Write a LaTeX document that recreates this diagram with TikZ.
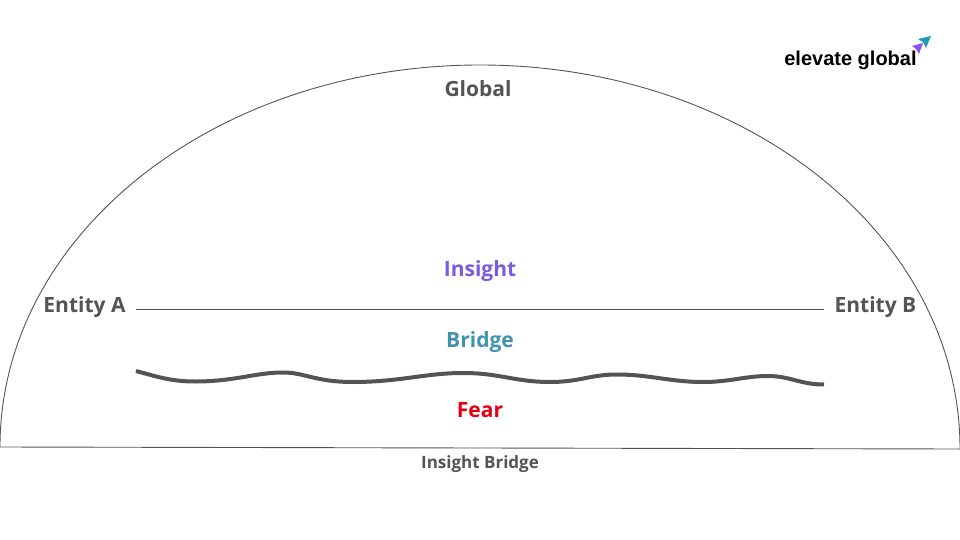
\documentclass[tikz,border=0pt]{standalone}
\usepackage{fontspec}
\setmainfont{Open Sans}
\newfontfamily\logofont{Liberation Sans}
\usepackage{xcolor}
\definecolor{label-grey}{HTML}{545454}
\definecolor{insight-purple}{HTML}{7B5CE0}
\definecolor{bridge-teal}{HTML}{3F93AE}
\definecolor{fear-red}{HTML}{E60012}
\definecolor{logo-teal}{HTML}{1C9CB0}
\definecolor{logo-purple}{HTML}{8A55E6}
\newcommand{\pxfont}[1]{\fontsize{#1}{#1}\selectfont\bfseries}

\begin{document}
\begin{tikzpicture}[x=1pt, y=-1pt,
    every node/.style={inner sep=0pt, anchor=center},
    tag/.style={text=label-grey, font=\pxfont{21}},
    thinline/.style={draw=label-grey, line width=0.9pt},
    wave/.style={draw=label-grey, line width=4pt}]
    \useasboundingbox (0, 0) rectangle (960, 540);
    % dome and ground line
    \coordinate (domeA) at (0, 447);
    \coordinate (domeB) at (960, 449);
    \draw[thinline] (domeA) .. controls (0, 235) and (215, 65) .. (480, 65)
      .. controls (745, 65) and (960, 235) .. (domeB);
    \draw[thinline] (domeA) -- (domeB);
    % labels
    \node[tag] (global) at (478, 89) {Global};
    \node[tag] (entA) at (84.5, 307) {Entity A};
    \node[tag] (entB) at (875.5, 307) {Entity B};
    \node[tag, text=insight-purple] (insight) at (480, 271) {Insight};
    \node[tag, text=bridge-teal] (bridge) at (480, 342) {Bridge};
    \node[tag, text=fear-red] (fear) at (480, 410) {Fear};
    \node[tag, font=\pxfont{17}] (title) at (480, 464) {Insight Bridge};
    % the two lines between the entities
    \coordinate (lineA) at (136, 309);
    \coordinate (lineB) at (824, 309);
    \draw[thinline] (lineA) -- (lineB);
    \draw[wave] (136, 371) .. controls (155, 376) and (170, 381.5) .. (195, 381.5)
      .. controls (235, 381.5) and (255, 372.5) .. (283, 372.5)
      .. controls (305, 372.5) and (315, 382) .. (353, 382)
      .. controls (400, 382) and (425, 373) .. (463, 373)
      .. controls (500, 373) and (515, 382) .. (550, 382)
      .. controls (580, 382) and (590, 374.5) .. (617, 374.5)
      .. controls (650, 374.5) and (670, 382) .. (703, 382)
      .. controls (730, 382) and (745, 376) .. (768, 376)
      .. controls (790, 376) and (800, 384.5) .. (824, 384.5);
    % logo
    \node[text=black, font=\pxfont{20}\logofont] (logo) at (850.5, 60) {elevate global};
    \fill[logo-teal] (931, 36) -- (918, 39) -- (923, 42) -- (926, 48) -- cycle;
    \fill[logo-purple] (923, 43) -- (912, 46) -- (916, 49) -- (919, 54) -- cycle;
  \end{tikzpicture}
\end{document}
